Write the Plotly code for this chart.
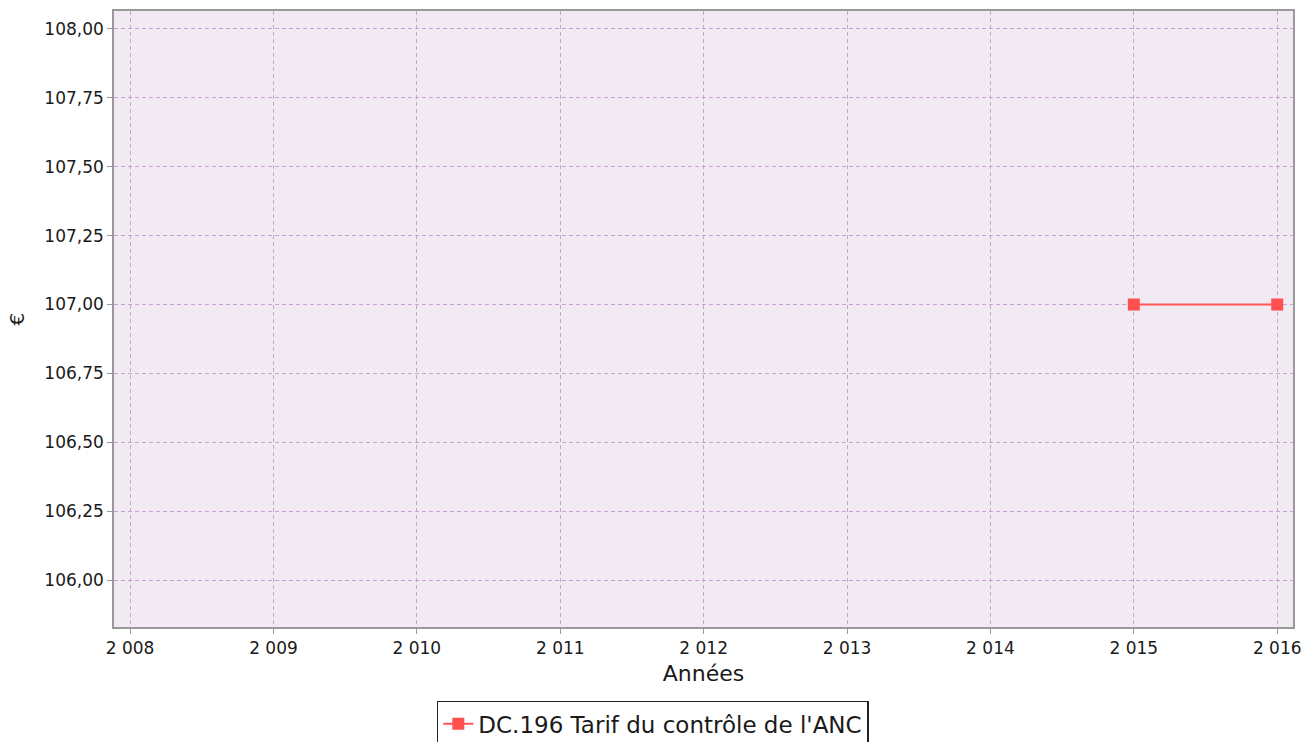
import plotly.graph_objects as go

years = [2015, 2016]
values = [107.0, 107.0]
series_name = "DC.196 Tarif du contrôle de l'ANC"
x_ticks = [2008, 2009, 2010, 2011, 2012, 2013, 2014, 2015, 2016]
x_ticktext = ["2 008", "2 009", "2 010", "2 011", "2 012", "2 013", "2 014", "2 015", "2 016"]
y_ticks = [106.0, 106.25, 106.5, 106.75, 107.0, 107.25, 107.5, 107.75, 108.0]
y_ticktext = ["106,00", "106,25", "106,50", "106,75", "107,00", "107,25", "107,50", "107,75", "108,00"]

fig = go.Figure()
fig.add_trace(go.Scatter(
    x=years, y=values, mode="lines+markers", name=series_name,
    line=dict(color="#ff5555", width=2),
    marker=dict(symbol="square", size=12, color="#ff5050"),
))

axis_common = dict(
    showline=True, linecolor="#999999", linewidth=1.5, mirror=True,
    ticks="outside", ticklen=5, tickcolor="#999999", automargin=False,
    showgrid=True, gridcolor="#c9a3d3", griddash="4px,3px", gridwidth=1,
    zeroline=False, tickfont=dict(family="DejaVu Sans", size=17, color="#1a1a1a"),
)

fig.update_layout(
    width=1306, height=742,
    margin=dict(l=114, r=13, t=11, b=115, autoexpand=False),
    paper_bgcolor="white", plot_bgcolor="#f2eaf3",
    font=dict(family="DejaVu Sans", size=17, color="#1a1a1a"),
    xaxis=dict(range=[2007.888, 2016.11], tickvals=x_ticks, ticktext=x_ticktext,
               title=dict(text="Années", font=dict(size=22), standoff=8), **axis_common),
    yaxis=dict(range=[105.83, 108.065], tickvals=y_ticks, ticktext=y_ticktext,
               title=dict(text="€", font=dict(size=20), standoff=14), **axis_common),
    showlegend=True,
    legend=dict(orientation="h", x=0.457, xanchor="center", y=-0.12, yanchor="top",
                bordercolor="#222222", borderwidth=1.5, bgcolor="white",
                font=dict(size=23, family="DejaVu Sans", color="#1a1a1a"),
                itemwidth=30),
)

fig.write_html("out.html", config={"displayModeBar": False},
               post_script="document.body.style.margin='0';")
